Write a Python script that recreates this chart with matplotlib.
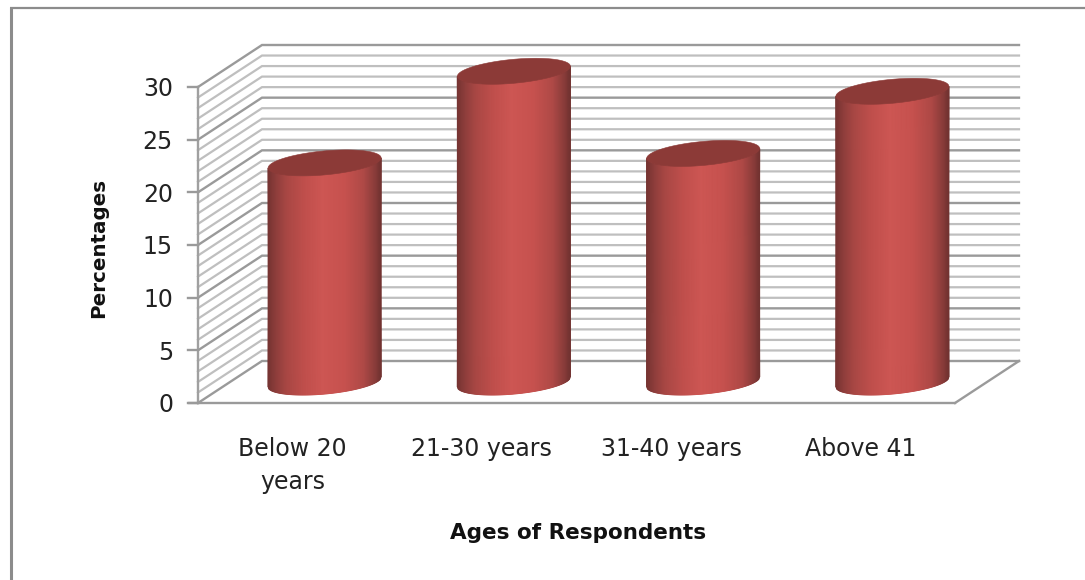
import numpy as np
import matplotlib
matplotlib.use("Agg")
import matplotlib.pyplot as plt
from matplotlib.colors import LinearSegmentedColormap

categories = ["Below 20\nyears", "21-30 years", "31-40 years", "Above 41"]
percentages = [20.8, 29.5, 21.7, 27.6]
y_ticks = [0, 5, 10, 15, 20, 25, 30]
grid_levels = list(range(0, 31))
x_title = "Ages of Respondents"
y_title = "Percentages"

W, H = 1085, 580
FRONT_L, FRONT_R, FRONT_BOTTOM, FRONT_TOP = 198, 955, 403, 87
DEPTH_X, DEPTH_Y = 64, 42

plt.rcParams["font.family"] = ["DejaVu Sans"]
fig = plt.figure(figsize=(W / 100, H / 100), dpi=100, facecolor="white")

# Frame around the whole chart area
bg = fig.add_axes([0, 0, 1, 1], zorder=0)
bg.set_xlim(0, W)
bg.set_ylim(H, 0)
bg.axis("off")
bg.plot([11, 11], [580, 6.5], color="#8c8c8c", lw=2.2, solid_capstyle="butt")
bg.plot([9.5, 1085], [7.5, 7.5], color="#8c8c8c", lw=1.6, solid_capstyle="butt")

# The front plane of the 3-D box carries the data scales
ax = fig.add_axes([FRONT_L / W, 1 - FRONT_BOTTOM / H,
                   (FRONT_R - FRONT_L) / W, (FRONT_BOTTOM - FRONT_TOP) / H],
                  zorder=1)
ax.patch.set_alpha(0)
for side in ("top", "right", "bottom", "left"):
    ax.spines[side].set_visible(False)

ux = (FRONT_R - FRONT_L) / len(categories)
uy = (FRONT_BOTTOM - FRONT_TOP) / 30.0
dx, dy = DEPTH_X / ux, DEPTH_Y / uy
xmax = len(categories)

# Side wall and back wall gridlines, plus the floor outline
for lv in grid_levels:
    major = lv % 5 == 0
    col = "#9a9a9a" if major else "#bfbfbf"
    lw = 1.7 if major else 1.6
    ax.plot([0, dx, xmax + dx], [lv, lv + dy, lv + dy], color=col, lw=lw,
            clip_on=False, zorder=1, solid_joinstyle="miter")
ax.plot([xmax, xmax + dx], [0, dy], color="#9a9a9a", lw=1.7, clip_on=False, zorder=1)
ax.plot([0, 0], [0, 30], color="#a0a0a0", lw=1.7, clip_on=False, zorder=2)
ax.plot([-0.05, xmax], [0, 0], color="#9a9a9a", lw=1.7, clip_on=False, zorder=2)

ax.set_xticks([])
ax.set_yticks(y_ticks)
ax.tick_params(axis="y", length=0, pad=18, labelsize=17, labelcolor="#222222")
for tick in y_ticks:
    ax.plot([-0.053, 0], [tick, tick], color="#9a9a9a", lw=1.7, clip_on=False, zorder=2)

# Cylinder shading runs dark-light-dark across each bar
body_cmap = LinearSegmentedColormap.from_list(
    "body", [(0, "#763432"), (0.07, "#8f3e3c"), (0.16, "#a84744"), (0.32, "#c04f4c"),
             (0.48, "#cd5653"), (0.68, "#c6514e"), (0.85, "#ae4946"),
             (0.95, "#8a3c3a"), (1, "#713230")])

half = 56.5 / ux
b = 12.0 / uy
shear = 5.0 / uy


def lower_edge(x, cx, cy):
    """Lower half of the sheared ellipse that outlines a cylinder end."""
    c = np.clip((x - cx) / half, -1, 1)
    return cy - b * np.sqrt(1 - c ** 2) + shear * c


shade = np.linspace(0, 1, 114)
for i, v in enumerate(percentages):
    cx = i + 0.5 + dx / 2
    base = dy / 2
    xs = cx + half * (2 * shade - 1)
    X = np.vstack([xs, xs])
    Y = np.vstack([lower_edge(xs, cx, base), lower_edge(xs, cx, v + base)])
    C = np.vstack([shade, shade])
    ax.pcolormesh(X, Y, C, shading="gouraud", cmap=body_cmap, vmin=0, vmax=1,
                  zorder=3, clip_on=False)
    t = np.linspace(0, 2 * np.pi, 181)
    ax.fill(cx + half * np.cos(t),
            v + base + b * np.sin(t) + shear * np.cos(t),
            color="#8c3a37", zorder=4, clip_on=False, lw=0.4)

ax.set_xlim(0, xmax)
ax.set_ylim(0, 30)

# Category labels sit under the floor
for i, lab in enumerate(categories):
    ax.text(i + 0.5, -3.2, lab, ha="center", va="top", fontsize=17,
            color="#222222", linespacing=1.5, clip_on=False)

bg.text(578, 533, x_title, ha="center", va="center", fontsize=15.5, fontweight="bold",
        color="#111111")
bg.text(99, 247.5, y_title, ha="center", va="center", rotation=90, fontsize=14.3,
        fontweight="bold", color="#111111")

fig.savefig("out.png", dpi=100, facecolor="white")
